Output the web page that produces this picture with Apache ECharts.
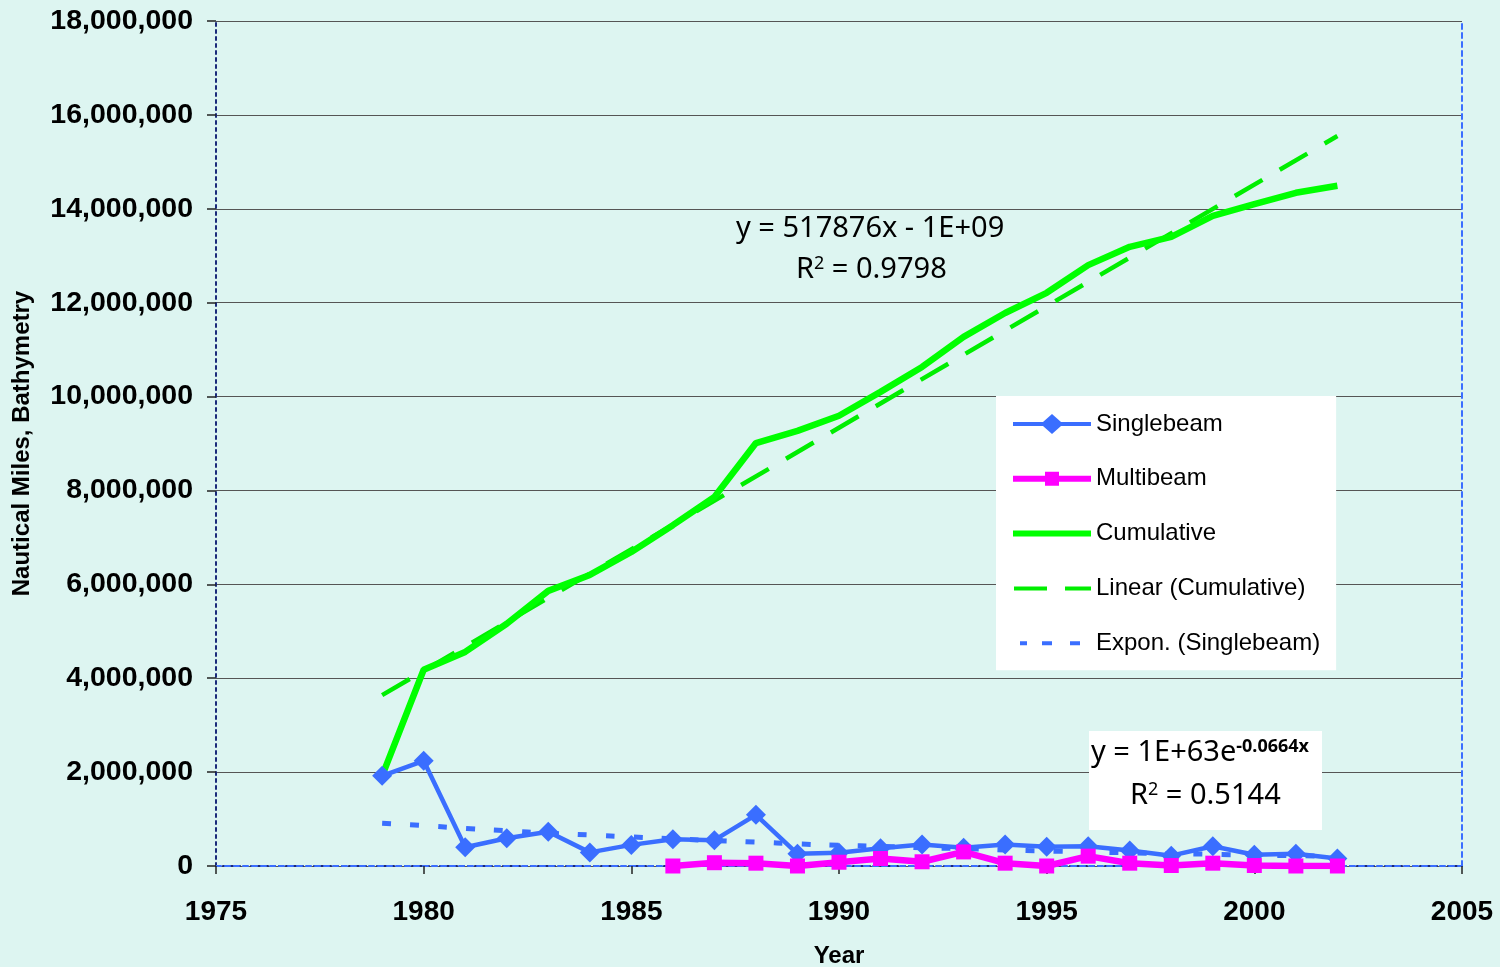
<!DOCTYPE html>
<html>
<head>
<meta charset="utf-8">
<script src="https://cdn.jsdelivr.net/npm/echarts@6/dist/echarts.min.js"></script>
<style>
html, body { margin: 0; padding: 0; background: #ddf5f1; }
#container-chart { width: 1500px; height: 967px; }
</style>
</head>
<body>
<div id="container-chart"></div>
<script>
var years = [1979, 1980, 1981, 1982, 1983, 1984, 1985, 1986, 1987, 1988, 1989, 1990,
  1991, 1992, 1993, 1994, 1995, 1996, 1997, 1998, 1999, 2000, 2001, 2002];
var singlebeam = [1920000, 2240000, 400000, 590000, 730000, 290000, 450000, 570000, 550000, 1090000, 260000, 280000,
  380000, 460000, 390000, 460000, 410000, 420000, 330000, 220000, 420000, 240000, 260000, 160000];
var cumulative = [1920000, 4180000, 4560000, 5160000, 5860000, 6200000, 6690000, 7260000, 7860000, 9010000, 9270000, 9590000,
  10100000, 10630000, 11270000, 11780000, 12210000, 12800000, 13190000, 13400000, 13850000, 14100000, 14340000, 14490000];
var multiYears = [1986, 1987, 1988, 1989, 1990, 1991, 1992, 1993, 1994, 1995, 1996, 1997, 1998, 1999, 2000, 2001, 2002];
var multibeam = [0, 70000, 60000, 0, 80000, 160000, 90000, 300000, 60000, 0, 210000, 60000, 10000, 60000, 10000, 0, 0];
var expon = [910000, 860000, 800000, 750000, 700000, 660000, 620000, 580000, 540000, 510000, 470000, 440000,
  420000, 390000, 370000, 340000, 320000, 300000, 280000, 260000, 250000, 230000, 220000, 200000];
var linearYears = [1979, 2002];
var linear = [3640000, 15550000];
var yTicks = [0, 2000000, 4000000, 6000000, 8000000, 10000000, 12000000, 14000000, 16000000, 18000000];

function pairs(xs, ys) {
  var out = [];
  for (var i = 0; i < xs.length; i++) { out.push([xs[i], ys[i]]); }
  return out;
}

// legend icons drawn in a 78x20 box, tiny corner dots keep the box size
var corners = ' M0,0 L0.01,0 L0,0.01 Z M78,20 L77.99,20 L78,19.99 Z';
var icons = {
  single: 'path://M0,8 L30,8 L39,0 L48,8 L78,8 L78,12 L48,12 L39,20 L30,12 L0,12 Z' + corners,
  multi: 'path://M0,7 L32,7 L32,3 L46,3 L46,7 L78,7 L78,13 L46,13 L46,17 L32,17 L32,13 L0,13 Z' + corners,
  cumul: 'path://M0,7 L78,7 L78,13 L0,13 Z' + corners,
  linear: 'path://M1,8 L34,8 L34,12 L1,12 Z M52,8 L78,8 L78,12 L52,12 Z' + corners,
  expon: 'path://M7,8 L14,8 L14,12 L7,12 Z M29,8 L39,8 L39,12 L29,12 Z M57,8 L67,8 L67,12 L57,12 Z' + corners
};

var dom = document.getElementById('container-chart');
var myChart = echarts.init(dom);
var bold = { fontFamily: 'Liberation Sans, Arial', fontWeight: 'bold', color: '#000' };
var eqFont = 'Noto Sans, DejaVu Sans, sans-serif';

var option = {
  backgroundColor: '#ddf5f1',
  animation: false,
  grid: { left: 216, right: 38, top: 21, bottom: 101, containLabel: false, outerBoundsMode: 'none' },
  legend: {
    orient: 'vertical',
    left: 996, top: 396,
    backgroundColor: '#fff',
    padding: [16, 16, 15, 17],
    itemWidth: 78, itemHeight: 20, itemGap: 30.8,
    textStyle: { fontFamily: 'Liberation Sans, Arial', fontSize: 24, color: '#000', lineHeight: 24 },
    data: [
      { name: 'Singlebeam', icon: icons.single },
      { name: 'Multibeam', icon: icons.multi },
      { name: 'Cumulative', icon: icons.cumul },
      { name: 'Linear (Cumulative)', icon: icons.linear },
      { name: 'Expon. (Singlebeam)', icon: icons.expon }
    ]
  },
  xAxis: [{
    type: 'value', min: 1975, max: 2005, interval: 5,
    name: 'Year', nameLocation: 'middle', nameGap: 78,
    nameTextStyle: { fontFamily: 'Liberation Sans, Arial', fontWeight: 'bold', fontSize: 24, color: '#000' },
    axisLine: { show: true, onZero: false, lineStyle: { color: '#1a2a7a', width: 2, type: [3, 4] } },
    axisTick: { show: true, length: 8, lineStyle: { color: '#222', width: 1.5 } },
    axisLabel: Object.assign({ fontSize: 28, margin: 32, formatter: function (v) { return String(v); } }, bold),
    splitLine: { show: false }
  }, {
    type: 'value', min: 1975, max: 2005, position: 'top',
    axisLine: { show: true, lineStyle: { color: '#3a6eff', width: 2, type: [5, 4] } },
    axisTick: { show: false }, axisLabel: { show: false }, splitLine: { show: false }
  }],
  yAxis: [{
    type: 'value', min: 0, max: 18000000, interval: 2000000,
    name: 'Nautical Miles, Bathymetry', nameLocation: 'middle', nameGap: 182, nameRotate: 90,
    nameTextStyle: { fontFamily: 'Liberation Sans, Arial', fontWeight: 'bold', fontSize: 24, color: '#000' },
    axisLine: { show: true, lineStyle: { color: '#1a2a7a', width: 2, type: [3, 4] } },
    axisTick: { show: true, length: 9, lineStyle: { color: '#222', width: 1.5 } },
    axisLabel: Object.assign({
      fontSize: 28.5, margin: 23,
      formatter: function (v) { return yTicks.indexOf(v) >= 0 ? v.toLocaleString('en-US') : ''; }
    }, bold),
    splitLine: { show: true, lineStyle: { color: '#555', width: 1.2 } }
  }, {
    type: 'value', min: 0, max: 18000000, position: 'right',
    axisLine: { show: true, lineStyle: { color: '#3a6eff', width: 2, type: [5, 4] } },
    axisTick: { show: false }, axisLabel: { show: false }, splitLine: { show: false }
  }],
  series: [{
    name: 'Linear (Cumulative)', type: 'line', symbol: 'none', z: 2,
    data: pairs(linearYears, linear),
    lineStyle: { color: '#00ee00', width: 4.5, type: [32, 20] },
    itemStyle: { color: '#00ee00' }
  }, {
    name: 'Expon. (Singlebeam)', type: 'line', symbol: 'none', smooth: true, z: 2,
    data: pairs(years, expon),
    lineStyle: { color: '#3a6eff', width: 5, type: [9, 19] },
    itemStyle: { color: '#3a6eff' }
  }, {
    name: 'Cumulative', type: 'line', symbol: 'none', z: 3,
    data: pairs(years, cumulative),
    lineStyle: { color: '#00ff00', width: 6.5 },
    itemStyle: { color: '#00ff00' }
  }, {
    name: 'Singlebeam', type: 'line', symbol: 'diamond', symbolSize: 20, z: 4,
    data: pairs(years, singlebeam),
    lineStyle: { color: '#3a6eff', width: 4.5 },
    itemStyle: { color: '#3a6eff' }
  }, {
    name: 'Multibeam', type: 'line', symbol: 'rect', symbolSize: 15, z: 5,
    data: pairs(multiYears, multibeam),
    lineStyle: { color: '#ff00ff', width: 6.5 },
    itemStyle: { color: '#ff00ff' }
  }],
  graphic: [{
    type: 'text', left: 736, top: 214, z: 10,
    style: { text: 'y = 517876x - 1E+09', font: '29px ' + eqFont, fill: '#000' }
  }, {
    type: 'text', left: 796, top: 255, z: 10,
    style: {
      text: '{n|R}{s|2}{n| = 0.9798}', fill: '#000',
      rich: { n: { font: '29px ' + eqFont }, s: { font: '18px ' + eqFont, verticalAlign: 'top', padding: [0, 0, 10, 0] } }
    }
  }, {
    type: 'rect', z: 9, shape: { x: 1089, y: 731, width: 233, height: 99 }, style: { fill: '#fff' }
  }, {
    type: 'text', left: 1091, top: 738, z: 10,
    style: {
      text: '{n|y = 1E+63e}{s|-0.0664x}', fill: '#000',
      rich: { n: { font: '29px ' + eqFont }, s: { font: 'bold 18px ' + eqFont, verticalAlign: 'top', padding: [0, 0, 12, 0] } }
    }
  }, {
    type: 'text', left: 1130, top: 781, z: 10,
    style: {
      text: '{n|R}{s|2}{n| = 0.5144}', fill: '#000',
      rich: { n: { font: '29px ' + eqFont }, s: { font: '18px ' + eqFont, verticalAlign: 'top', padding: [0, 0, 10, 0] } }
    }
  }]
};

if (option && typeof option === 'object') {
  myChart.setOption(option, true);
}
</script>
</body>
</html>
